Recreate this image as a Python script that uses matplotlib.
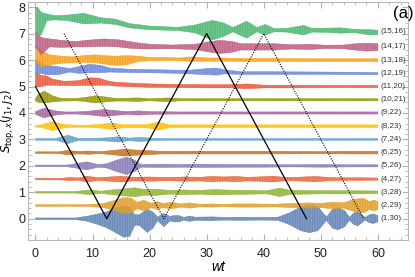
import numpy as np
import matplotlib.pyplot as plt
from matplotlib.ticker import MultipleLocator
from matplotlib.colors import to_rgba

plt.rcParams['font.family'] = ['Liberation Sans', 'DejaVu Sans']
plt.rcParams['hatch.linewidth'] = 0.5

pairs = ['(1,30)', '(2,29)', '(3,28)', '(4,27)', '(5,26)', '(6,25)', '(7,24)', '(8,23)',
         '(9,22)', '(10,21)', '(11,20)', '(12,19)', '(13,18)', '(14,17)', '(15,16)']
colors = ['#5E81B5', '#E19C24', '#8FB032', '#EB6235', '#8778B3', '#C56E1A', '#5D9EC7', '#FFBF00',
          '#A5609D', '#929600', '#E95536', '#6685D9', '#F89F13', '#BC5B80', '#47B66D']
baseline = [0, 0.5, 1, 1.5, 2, 2.5, 3, 3.5, 4, 4.5, 5, 5.5, 6, 6.5, 7]
label_y = [0, 0.5, 1, 1.5, 2, 2.5, 3, 3.5, 4, 4.5, 5, 5.5, 6, 6.5, 7.1]

# envelope of each oscillating signal: (wt, lower, upper) relative to its offset
env_1_30 = [(0, -.03, .03), (7, -.03, .03), (9, -.09, .09), (11, -.22, .18), (12.5, -.34, .26),
            (14, -.52, .4), (15.5, -.7, .46), (16.5, -.67, .43), (17.4, -.25, .15), (18.2, -.25, .15),
            (19.6, -.52, .36), (20.6, -.35, .25), (21.4, -.07, .06), (22.5, -.3, .2), (23.6, -.08, .08),
            (24.2, -.12, .12), (25.2, -.12, .12), (26, -.05, .05), (27, -.1, .1), (28, -.06, .06),
            (31, -.07, .07), (33, -.05, .05), (36, -.06, .06), (40, -.05, .05), (42.5, -.06, .06),
            (44.5, -.22, .22), (46.5, -.45, .45), (48, -.53, .53), (49.5, -.45, .45), (51, -.06, .06),
            (52, -.35, .35), (53, -.42, .42), (54.2, -.3, .3), (55, -.06, .06), (55.8, -.22, .22),
            (56.5, -.27, .27), (57.2, -.15, .15), (57.8, -.05, .05), (58.5, -.15, .15), (59.2, -.18, .18),
            (60, -.12, .12)]
env_2_29 = [(0, -.03, .03), (9, -.03, .03), (12, -.08, .08), (14, -.2, .2), (15.5, -.3, .3),
            (16.8, -.28, .28), (17.8, -.12, .12), (19, -.2, .2), (20.3, -.08, .08), (21.3, -.15, .15),
            (22.4, -.07, .07), (23.5, -.12, .12), (24.5, -.1, .1), (25.5, -.06, .06), (27, -.1, .1),
            (28.8, -.05, .05), (31, -.06, .06), (33, -.04, .04), (35, -.06, .06), (38, -.06, .06),
            (42, -.05, .05), (45, -.08, .08), (48, -.1, .1), (50, -.08, .08), (52, -.12, .12),
            (54, -.1, .1), (56, -.24, .24), (57.5, -.27, .27), (58.5, -.15, .15), (59.3, -.2, .2),
            (60, -.15, .15)]
env_3_28 = [(0, -.03, .03), (7, -.03, .03), (9.5, -.09, .09), (11.5, -.04, .04), (13, -.08, .08),
            (15, -.12, .12), (17.5, -.17, .17), (19, -.11, .11), (21, -.12, .12), (23.5, -.07, .07),
            (26, -.09, .09), (28.8, -.07, .07), (31, -.1, .1), (33, -.09, .09), (35, -.08, .08),
            (38, -.07, .07), (40.5, -.06, .06), (42.8, -.16, .16), (44.5, -.08, .08), (47, -.07, .07),
            (50, -.06, .06), (55, -.06, .06), (60, -.05, .05)]
env_4_27 = [(0, -.03, .03), (4.5, -.03, .03), (6, -.06, .06), (7.5, -.04, .04), (9, -.11, .11),
            (11, -.05, .05), (13, -.08, .08), (15, -.11, .11), (17, -.07, .07), (20, -.08, .08),
            (23, -.06, .06), (26, -.08, .08), (29, -.07, .07), (31, -.1, .1), (33, -.08, .08),
            (35, -.1, .1), (37, -.07, .07), (39, -.08, .08), (41.5, -.11, .11), (44, -.06, .06),
            (46, -.07, .07), (49, -.1, .1), (51.5, -.06, .06), (54, -.05, .05), (57, -.05, .05),
            (60, -.04, .04)]
env_5_26 = [(0, -.03, .03), (5.5, -.03, .03), (7, -.08, .08), (9, -.15, .15), (11, -.05, .05),
            (12.5, -.08, .08), (14, -.2, .2), (16, -.33, .33), (17.5, -.2, .2), (18.5, -.05, .05),
            (22, -.06, .06), (26, -.05, .05), (30, -.06, .06), (35, -.05, .05), (40, -.05, .05),
            (45, -.04, .04), (50, -.05, .05), (55, -.04, .04), (60, -.04, .04)]
env_6_25 = [(0, -.03, .03), (4, -.03, .03), (5.5, -.08, .08), (7.5, -.05, .05), (9.5, -.06, .06),
            (11.5, -.04, .04), (13.5, -.08, .08), (15.5, -.13, .13), (17.5, -.1, .1), (19.5, -.08, .08),
            (22, -.05, .05), (26, -.05, .05), (30, -.05, .05), (40, -.05, .05), (50, -.04, .04),
            (55, -.05, .05), (60, -.05, .05)]
env_7_24 = [(0, -.03, .03), (3.5, -.03, .03), (5.7, -.16, .16), (7.5, -.04, .04), (10, -.04, .04),
            (12.5, -.06, .06), (14.5, -.1, .1), (16.5, -.05, .05), (18.5, -.08, .08), (20.5, -.04, .04),
            (23, -.03, .03), (60, -.03, .03)]
env_8_23 = [(0, -.03, .03), (1, -.05, .05), (3, -.17, .17), (5, -.06, .06), (7, -.04, .04),
            (9, -.04, .04), (11, -.06, .06), (13.5, -.12, .12), (15.5, -.05, .05), (17.5, -.06, .06),
            (19.5, -.06, .06), (21.5, -.15, .15), (23.5, -.05, .05), (26, -.05, .05), (60, -.05, .05)]
env_9_22 = [(0, -.05, .05), (1.5, -.18, .18), (3.5, -.08, .08), (5, -.04, .04), (7, -.04, .04),
            (9, -.06, .06), (12, -.13, .13), (14.5, -.08, .08), (16, -.05, .05), (18, -.08, .08),
            (20, -.05, .05), (25, -.04, .04), (60, -.04, .04)]
env_10_21 = [(0, -.05, .05), (0.5, -.1, .2), (1.5, -.12, .33), (3, -.08, .15), (4.5, -.05, .05),
             (7, -.04, .05), (8.5, -.06, .08), (10.5, -.12, .15), (12.5, -.08, .1), (14, -.05, .05),
             (16, -.05, .06), (18, -.06, .07), (20, -.04, .04), (23.3, -.07, .07), (25.5, -.04, .04),
             (60, -.04, .04)]
env_11_20 = [(0, 0, .52), (0.3, -.02, .5), (1, 0, .42), (2, .05, .4), (3, .05, .28), (5, .04, .2),
             (7.5, .04, .22), (9.5, .05, .33), (11, .05, .32), (12.5, .05, .22), (14, .02, .16),
             (17, -.01, .13), (20, -.03, .1), (25, -.04, .08), (30, -.05, .07), (34, -.05, .07),
             (37, -.08, .1), (40, -.05, .05), (45, -.05, .05), (50, -.04, .04), (60, -.04, .04)]
env_12_19 = [(0, -.02, .5), (0.3, -.03, .5), (1, 0, .38), (2, -.05, .3), (4, -.05, .25), (6, .05, .18),
             (7.5, 0, .25), (9.5, .02, .34), (11.5, .02, .3), (13, .05, .2), (16, .03, .16),
             (20, .02, .14), (25, 0, .12), (27, -.02, .12), (30, -.05, .18), (31.8, -.07, .2),
             (33, -.02, .14), (36, -.04, .06), (40, -.04, .06), (50, -.04, .05), (60, -.05, .03)]
env_13_18 = [(0, -.1, .5), (0.3, -.1, .5), (1, -.25, .35), (2.5, -.18, .2), (4.5, -.12, .15),
             (6.5, -.1, .12), (8.7, -.08, .18), (10.5, -.1, .2), (12, -.15, .17), (14, -.2, .15),
             (16, -.18, .17), (18, -.05, .15), (20, -.02, .1), (23, -.02, .1), (25, -.02, .08),
             (27.5, -.05, .12), (30, -.04, .08), (33, -.04, .08), (36, -.05, .06), (40, -.05, .06),
             (50, -.05, .05), (60, -.05, .05)]
env_14_17 = [(0, -.05, .55), (0.3, -.05, .55), (1, -.3, .35), (2.5, 0, .3), (4.5, -.02, .25), (7, 0, .2),
             (9, 0, .25), (12, .02, .3), (14.5, 0, .27), (16.5, -.05, .2), (18, -.07, .15), (20, -.08, .1),
             (24, -.07, .07), (28, -.1, .1), (30, -.18, .18), (32.3, -.25, .25), (34.5, -.2, .2),
             (36, -.12, .12), (39, -.12, .12), (42, -.12, .12), (45, -.08, .08), (48, -.1, .1),
             (51, -.06, .06), (54, -.07, .07), (56, -.12, .12), (58, -.16, .14), (60, -.14, .12)]
env_15_16 = [(0, 0, 1), (0.4, 0, 1), (1, -.05, .8), (2, .5, .74), (3.5, .52, .68), (5.5, .5, .7),
             (8.5, .37, .77), (11.5, .4, .6), (14, .35, .55), (16.5, .22, .38), (20, .15, .29),
             (25, .12, .24), (28, .03, .33), (31, -.24, .5), (33, -.1, .4), (34.6, .07, .23),
             (37, -.17, .47), (38.8, .07, .23), (40.3, -.05, .35), (41.8, .07, .19), (44, .06, .2),
             (47, -.05, .31), (48.5, .06, .2), (51, .05, .21), (53.5, .02, .22), (56, .04, .16),
             (58.5, -.05, .15), (60, -.03, .13)]

envelopes = [env_1_30, env_2_29, env_3_28, env_4_27, env_5_26, env_6_25, env_7_24, env_8_23,
             env_9_22, env_10_21, env_11_20, env_12_19, env_13_18, env_14_17, env_15_16]

# light-cone guide lines
front_t = [0, 12.5, 30, 47.5]
front_y = [5, 0, 7, 0]
echo_t = [5, 22.5, 40, 57.5]
echo_y = [7, 0, 7, 0]

fig = plt.figure(figsize=(4.15, 2.77), dpi=100)
ax = fig.add_axes([0.0675, 0.134, 0.916, 0.859])

for k, env in enumerate(envelopes):
    e = np.array(env, dtype=float)
    t, lo, hi = e[:, 0], e[:, 1] + baseline[k], e[:, 2] + baseline[k]
    ax.fill_between(t, lo, hi, facecolor=to_rgba(colors[k], 0.72), edgecolor=colors[k],
                    hatch='||||||||||', linewidth=0.3, zorder=2 + k * 0.01)
    ax.text(60.5, label_y[k], pairs[k], fontsize=5.8, va='center', ha='left', color='#333333')

ax.plot(front_t, front_y, color='black', lw=0.9, zorder=5)
ax.plot(echo_t, echo_y, color='black', lw=0.8, ls=(0, (1, 1.3)), zorder=5)

ax.set_xlim(-1.3, 65.3)
ax.set_ylim(-0.8, 8.2)
ax.xaxis.set_major_locator(MultipleLocator(10))
ax.xaxis.set_minor_locator(MultipleLocator(2))
ax.yaxis.set_major_locator(MultipleLocator(1))
ax.yaxis.set_minor_locator(MultipleLocator(0.2))
ax.tick_params(which='both', direction='in', top=True, right=True, color='#b0b0b0',
               labelsize=9, labelcolor='#222222')
ax.tick_params(axis='x', which='major', length=4, pad=6)
ax.tick_params(axis='y', which='major', length=4, pad=2)
ax.tick_params(which='minor', length=2)
for s in ax.spines.values():
    s.set_color('#b8b8b8')
    s.set_linewidth(0.8)

ax.set_xlabel('wt', fontsize=10, style='italic', labelpad=0)
ax.set_ylabel(r'$S_{\mathrm{top},x}(j_1,j_2)$', fontsize=8.5, labelpad=1)
fig.text(0.971, 0.953, '(a)', fontsize=12, ha='center', va='center')

fig.savefig('out.png', dpi=100)
